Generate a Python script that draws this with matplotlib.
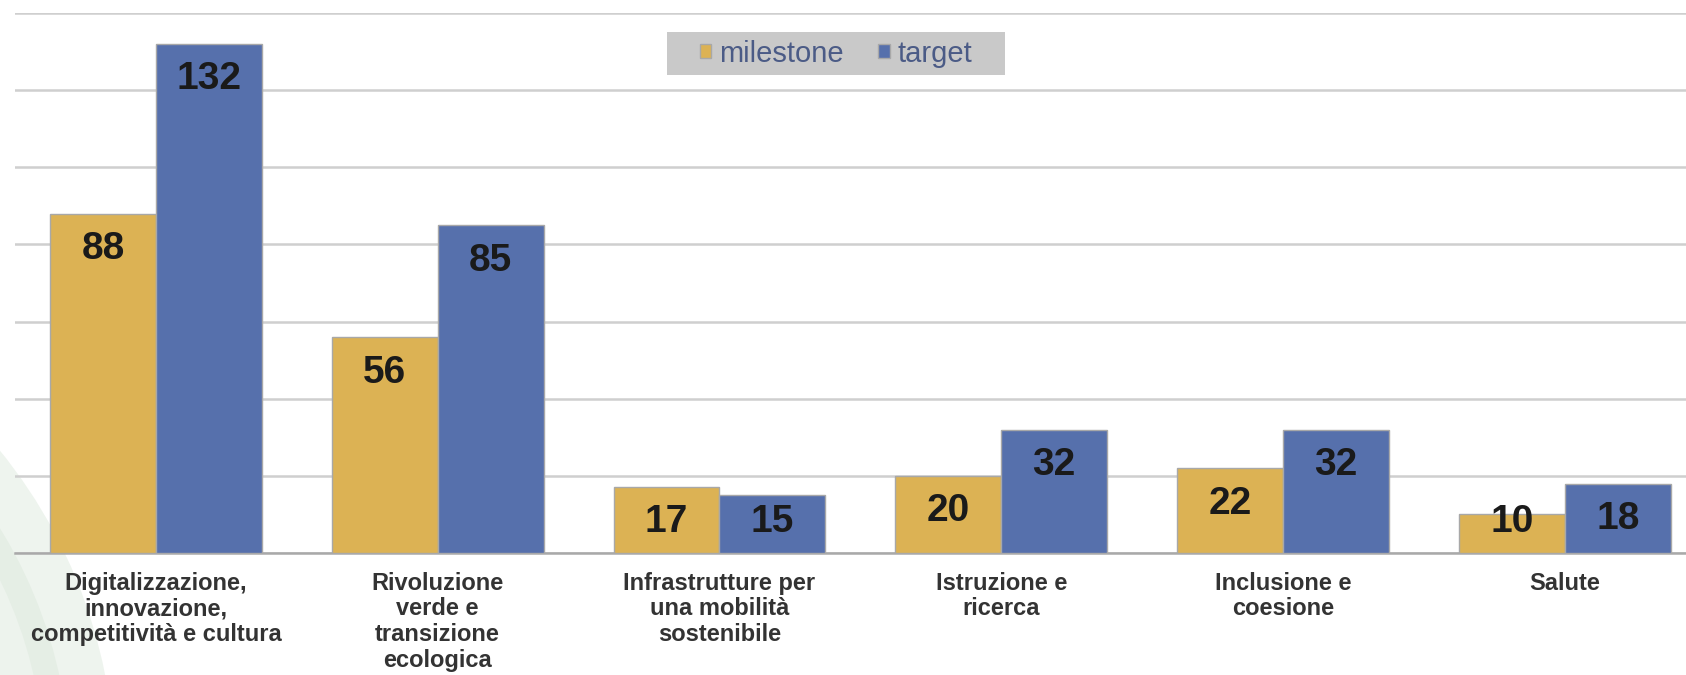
import numpy as np
import matplotlib.pyplot as plt
from matplotlib.patches import Circle, Rectangle
from matplotlib.transforms import IdentityTransform

categories = ['Digitalizzazione,\ninnovazione,\ncompetitività e cultura',
              'Rivoluzione\nverde e\ntransizione\necologica',
              'Infrastrutture per\nuna mobilità\nsostenibile',
              'Istruzione e\nricerca',
              'Inclusione e\ncoesione',
              'Salute']
milestone = [88, 56, 17, 20, 22, 10]
target = [132, 85, 15, 32, 32, 18]

plt.rcParams['font.family'] = ['Liberation Sans', 'DejaVu Sans']

fig = plt.figure(figsize=(16.86, 6.75), dpi=100)

# faint green swoosh in the bottom-left corner (slide background)
for r, c in [(515, '#eef4ee'), (470, '#e5eee5'), (445, '#edf3ed')]:
    fig.patches.append(Circle((-400, -100), r, transform=IdentityTransform(),
                              facecolor=c, edgecolor='none', zorder=-5))

ax = fig.add_axes([0.0089, 0.1807, 0.9911, 0.8])
ax.set_zorder(1)
ax.patch.set_alpha(0)

x = np.arange(len(categories))
w = 0.376
b1 = ax.bar(x - w / 2, milestone, w, color='#dcb254', edgecolor='#a8a8a8', lw=1, label='milestone', zorder=3)
b2 = ax.bar(x + w / 2, target, w, color='#5670ac', edgecolor='#a8a8a8', lw=1, label='target', zorder=3)

for bars, vals in [(b1, milestone), (b2, target)]:
    for r, v in zip(bars, vals):
        ax.text(r.get_x() + r.get_width() / 2, max(v - 9.2, 8.1), str(v),
                ha='center', va='center', fontsize=28, fontweight='bold',
                color='#1a1a1a', zorder=4)

ax.set_ylim(0, 140)
ax.set_xlim(-0.5, 5.43)
ax.set_yticks(np.arange(0, 141, 20))
ax.yaxis.grid(True, color='#cfcfcf', lw=1.8)
ax.set_axisbelow(True)
ax.tick_params(axis='y', left=False, labelleft=False)
ax.set_xticks(x)
ax.set_xticklabels(categories, fontsize=17, fontweight='bold', color='#333333', linespacing=1.15)
ax.tick_params(axis='x', bottom=False, pad=10)
for s in ['top', 'right', 'left']:
    ax.spines[s].set_visible(False)
ax.spines['bottom'].set_color('#a9a9a9')
ax.spines['bottom'].set_linewidth(1.8)

# grey legend box, drawn by hand for the wide side padding
ax.add_patch(Rectangle((0.390, 0.885), 0.2023, 0.0796, transform=ax.transAxes,
                       facecolor='#c9c9c9', edgecolor='none', zorder=5))
leg = ax.legend(loc='center', bbox_to_anchor=(0.4913, 0.925), ncol=2, fontsize=21,
                frameon=False, handlelength=0.4, handleheight=0.4, borderaxespad=0,
                handletextpad=0.25, columnspacing=1.2, borderpad=0)
leg.set_zorder(6)
for t in leg.get_texts():
    t.set_color('#4b5b86')

fig.savefig('out.png', dpi=100)
